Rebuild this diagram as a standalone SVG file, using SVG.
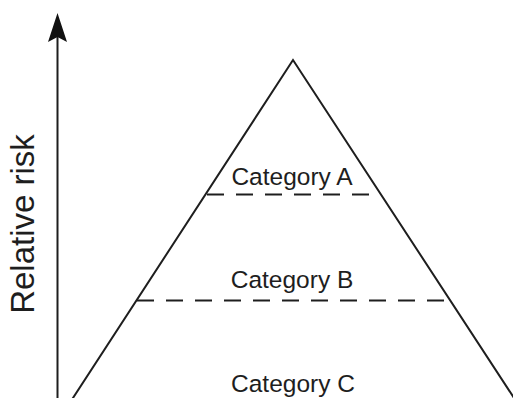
<svg xmlns="http://www.w3.org/2000/svg" width="513" height="398" viewBox="0 0 513 398">
<style>
.ln{stroke:#1e1e1e;stroke-width:2;fill:none}
.dash{stroke:#1e1e1e;stroke-width:2;stroke-dasharray:17 12;fill:none}
.lbl{font-family:"Liberation Sans",Arial,sans-serif;font-size:24.5px;fill:#1e1e1e;text-anchor:middle}
</style>
<rect width="513" height="398" fill="#fff"/>
<g id="connectors">
<line class="ln" x1="57.5" y1="398" x2="57.5" y2="36"/>
<polygon points="57.5,13 67,42 57.5,37 48,42" fill="#111"/>
</g>
<g id="pyramid">
<polyline class="ln" points="71,401 293,60 516,401"/>
</g>
<g id="categoryA">
<line class="dash" x1="207" y1="194.5" x2="381" y2="194.5"/>
<text class="lbl" x="292" y="185">Category A</text>
</g>
<g id="categoryB">
<line class="dash" x1="137" y1="300.5" x2="450" y2="300.5"/>
<text class="lbl" x="292" y="288">Category B</text>
</g>
<g id="categoryC">
<text class="lbl" x="293" y="392">Category C</text>
</g>
<g id="axisLabel">
<text class="lbl" style="font-size:33px" transform="translate(34,224) rotate(-90)">Relative risk</text>
</g>
</svg>
